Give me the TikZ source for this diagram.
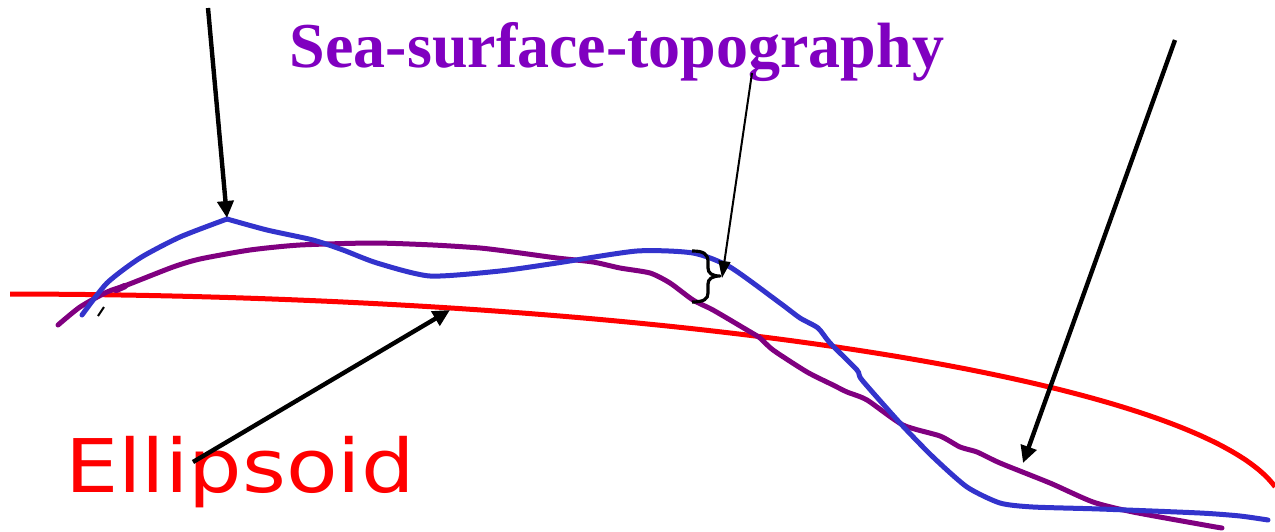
\documentclass[tikz,border=0pt]{standalone}
\usepackage{fontspec}
\setmainfont{Liberation Serif}
\newfontfamily\dejavu{DejaVu Sans}
\usetikzlibrary{arrows.meta}
\definecolor{ssttext}{RGB}{128,0,192}
\definecolor{geoid}{RGB}{128,0,128}
\definecolor{sea}{RGB}{51,51,204}
\definecolor{ellred}{RGB}{255,0,0}
\begin{document}
\begin{tikzpicture}[x=0.5pt,y=-0.5pt,
  curve/.style={line width=2.5pt,line join=round,line cap=round},
  bigarrow/.style={line width=2.2pt,-{Triangle[length=8.5pt,width=8pt]}},
  thinarrow/.style={line width=1pt,-{Triangle[length=8.5pt,width=6pt]}},
  bracestyle/.style={line width=1.6pt,line join=round}]
\useasboundingbox (0,0) rectangle (1275,531);
% ellipsoid
\draw[curve,ellred,line cap=butt] plot[domain=0.45:82.9,samples=120,smooth,variable=\t] ({1285*sin(\t)},{514-220*cos(\t)});
% geoid (purple)
\draw[curve,geoid] plot[smooth,tension=0.4] coordinates {(58,325) (80,307) (107,292) (127,285) (173,267) (200,259) (250,250) (300,245) (373,243) (433,245) (480,248) (513,252) (557,258) (593,262) (620,268) (650,273) (670,283) (693,300) (713,310) (747,330) (760,338) (773,350) (807,372) (833,385) (847,392) (867,400) (903,425) (940,436) (960,447) (977,452) (1000,463) (1050,483) (1093,502) (1133,512) (1210,526) (1222,528)};
\draw[geoid,line width=3.2pt,line cap=round] (116,290) -- (125,286);
% sea surface (blue)
\draw[curve,sea] plot[smooth,tension=0.4] coordinates {(82,315) (107,283) (140,258) (180,237) (227,219)};
\draw[curve,sea] plot[smooth,tension=0.4] coordinates {(227,219) (267,230) (313,240) (343,250) (377,263) (430,276) (500,271) (557,263) (637,251) (693,253) (730,267) (780,303) (800,318) (818,328) (830,343) (857,370) (862,380) (900,423) (933,457) (967,487) (1000,503) (1033,507) (1100,509) (1200,513) (1240,516) (1268,520)};
% small tick
\draw[line width=1pt] (98,316) -- (104,307);
% brace
\draw[bracestyle] (692,251) .. controls (704,251) and (708,254) .. (708,262) -- (708,268) .. controls (708,273) and (712,276) .. (720,276) .. controls (712,276) and (708,279) .. (708,284) -- (708,293) .. controls (708,299) and (704,302) .. (692,302);
% labels
\node[ssttext,font=\fontsize{32pt}{36pt}\selectfont\bfseries,anchor=base,inner sep=0pt] (sst) at (617,67) {Sea-surface-topography};
\node[ellred,font=\dejavu\fontsize{37pt}{40pt}\selectfont,anchor=base,inner sep=0pt,xscale=1.14] (ell) at (240,492) {Ellipsoid};
% arrow coordinates
\coordinate (a1s) at (208,8);
\coordinate (a1e) at (227,218);
\coordinate (a2s) at (752,73);
\coordinate (a2e) at (722,278);
\coordinate (a3s) at (193,462);
\coordinate (a3e) at (450,310);
\coordinate (a4s) at (1175,40);
\coordinate (a4e) at (1023,463);
\draw[bigarrow] (a1s) -- (a1e);
\draw[thinarrow] (a2s) -- (a2e);
\draw[bigarrow] (a3s) -- (a3e);
\draw[bigarrow] (a4s) -- (a4e);
\end{tikzpicture}
\end{document}
